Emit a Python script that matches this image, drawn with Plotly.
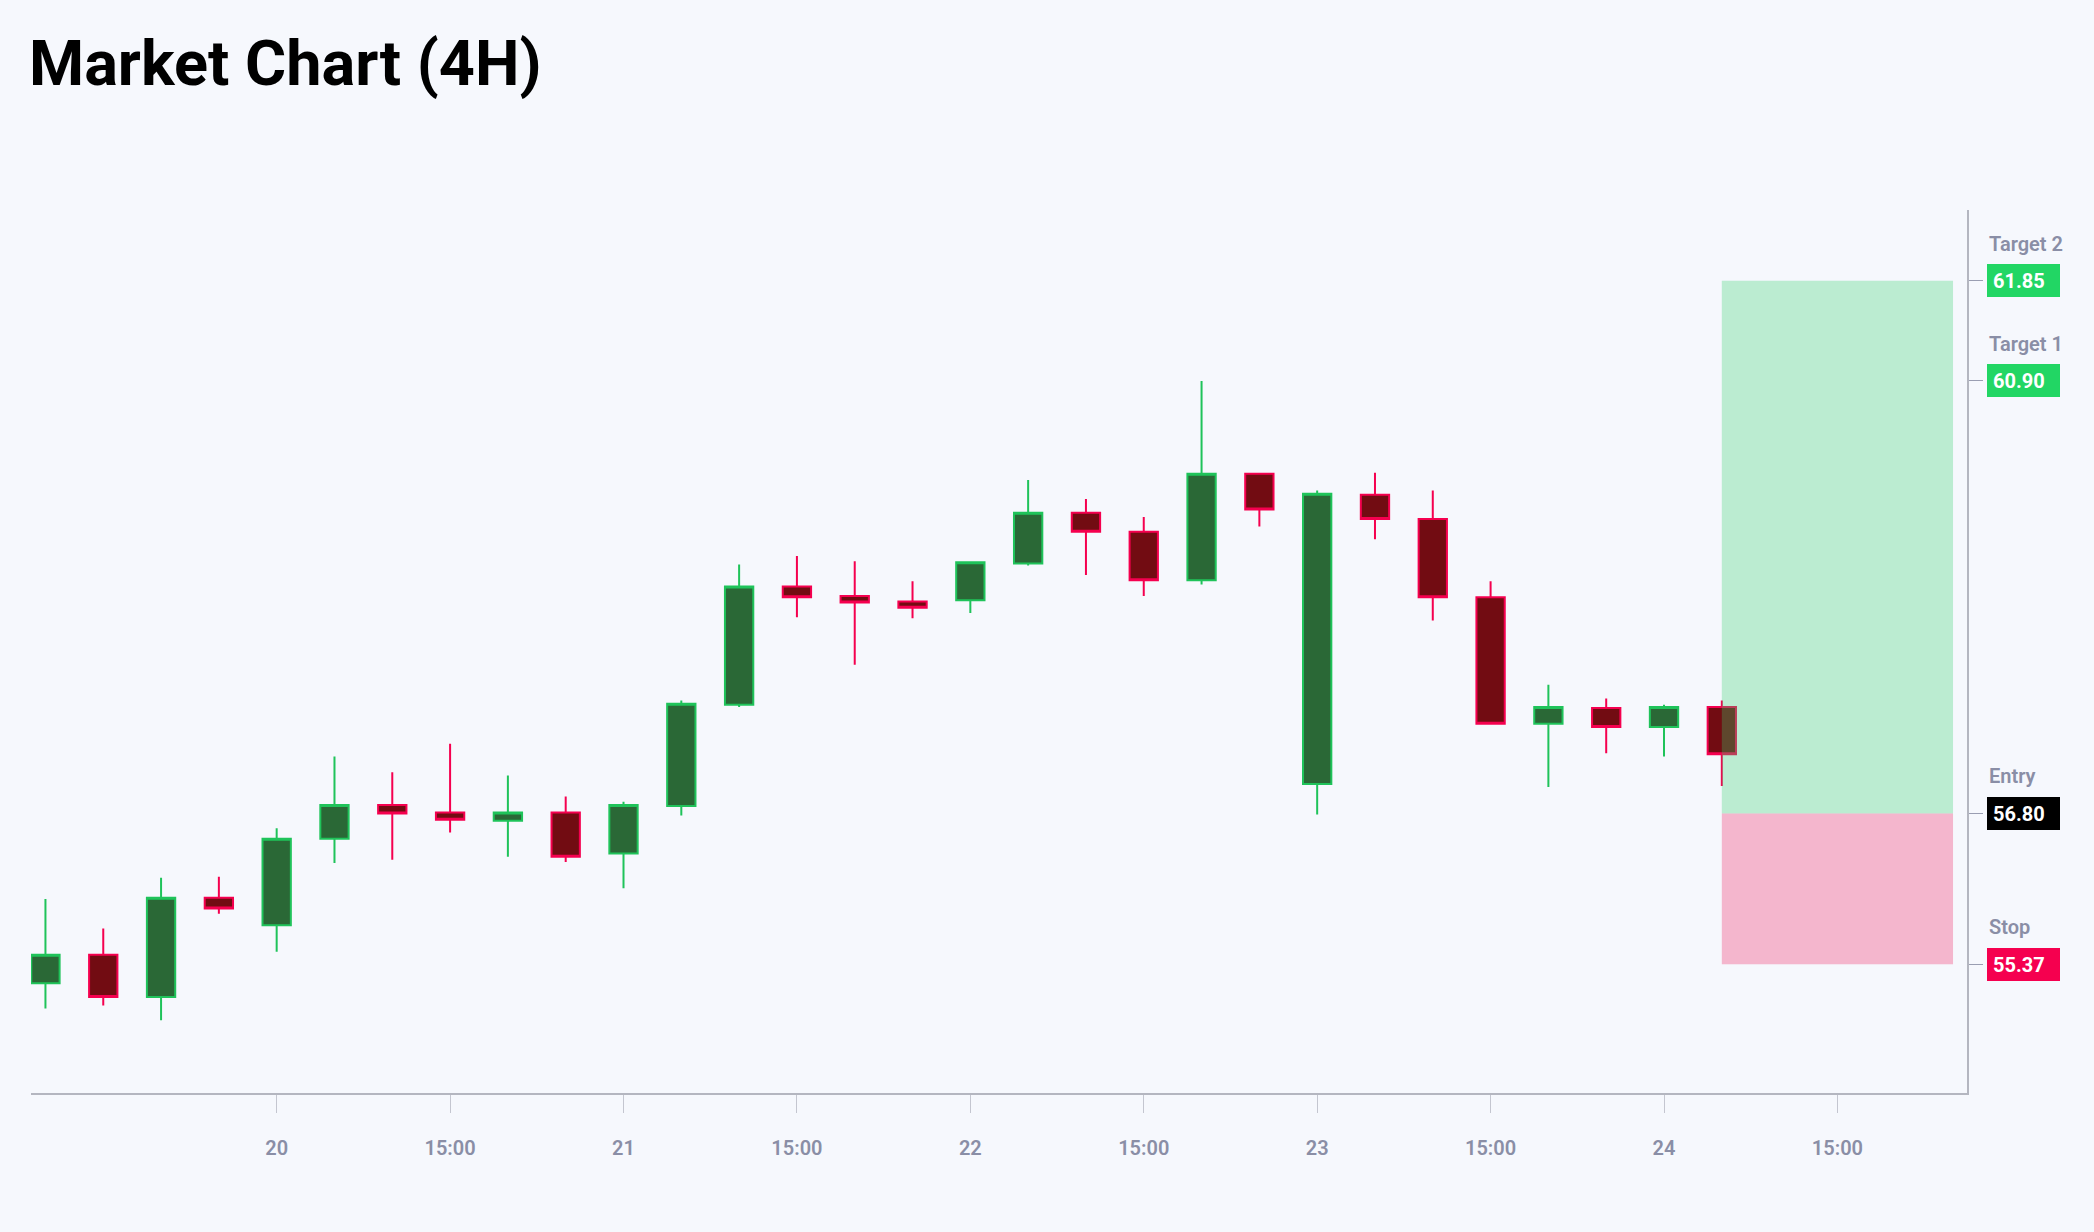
import plotly.graph_objects as go

# 4H candles
timestamps = [
    "2025-01-19 08:00", "2025-01-19 12:00", "2025-01-19 16:00", "2025-01-19 20:00",
    "2025-01-20 00:00", "2025-01-20 04:00", "2025-01-20 08:00", "2025-01-20 12:00",
    "2025-01-20 16:00", "2025-01-20 20:00", "2025-01-21 00:00", "2025-01-21 04:00",
    "2025-01-21 08:00", "2025-01-21 12:00", "2025-01-21 16:00", "2025-01-21 20:00",
    "2025-01-22 00:00", "2025-01-22 04:00", "2025-01-22 08:00", "2025-01-22 12:00",
    "2025-01-22 16:00", "2025-01-22 20:00", "2025-01-23 00:00", "2025-01-23 04:00",
    "2025-01-23 08:00", "2025-01-23 12:00", "2025-01-23 16:00", "2025-01-23 20:00",
    "2025-01-24 00:00", "2025-01-24 04:00",
]
opens = [55.19, 55.46, 55.06, 56.00, 55.74, 56.56, 56.88, 56.81, 56.73, 56.81,
         56.42, 56.87, 57.83, 58.95, 58.86, 58.81, 58.82, 59.17, 59.65, 59.47,
         59.01, 60.02, 57.08, 59.82, 59.59, 58.85, 57.65, 57.80, 57.62, 57.81]
highs = [55.99, 55.71, 56.19, 56.20, 56.66, 57.34, 57.19, 57.46, 57.16, 56.96,
         56.91, 57.87, 59.16, 59.24, 59.19, 59.00, 59.19, 59.96, 59.78, 59.61,
         60.90, 60.03, 59.86, 60.03, 59.86, 59.00, 58.02, 57.89, 57.83, 57.87]
lows = [54.95, 54.98, 54.84, 55.85, 55.49, 56.33, 56.36, 56.62, 56.39, 56.34,
        56.09, 56.78, 57.81, 58.66, 58.21, 58.65, 58.70, 59.15, 59.06, 58.86,
        58.97, 59.52, 56.79, 59.40, 58.63, 57.64, 57.05, 57.37, 57.34, 57.06]
closes = [55.46, 55.06, 56.00, 55.90, 56.56, 56.88, 56.80, 56.74, 56.81, 56.39,
          56.88, 57.84, 58.95, 58.85, 58.80, 58.75, 59.18, 59.65, 59.47, 59.01,
          60.02, 59.68, 59.83, 59.59, 58.85, 57.65, 57.81, 57.62, 57.81, 57.36]

# trade plan levels
level_names = ["Target 2", "Target 1", "Entry", "Stop"]
level_values = [61.85, 60.90, 56.80, 55.37]
level_colors = ["#22d664", "#22d664", "#000000", "#f5004f"]
entry_price = 56.80
stop_price = 55.37
target_price = 61.85
zone_start = "2025-01-24 04:00"
zone_end = "2025-01-24 20:00"

tick_vals = [
    "2025-01-20 00:00", "2025-01-20 12:00", "2025-01-21 00:00", "2025-01-21 12:00",
    "2025-01-22 00:00", "2025-01-22 12:00", "2025-01-23 00:00", "2025-01-23 12:00",
    "2025-01-24 00:00", "2025-01-24 12:00",
]
tick_text = ["20", "15:00", "21", "15:00", "22", "15:00", "23", "15:00", "24", "15:00"]
x_range = ["2025-01-19 07:00", "2025-01-24 20:58"]
y_range = [54.15, 62.52]

BG = "#f6f8fd"
MUTED = "#8a8ea6"

fig = go.Figure()
fig.add_trace(
    go.Candlestick(
        x=timestamps,
        open=opens,
        high=highs,
        low=lows,
        close=closes,
        increasing=dict(line=dict(color="#1fc35a", width=2), fillcolor="#2a6836"),
        decreasing=dict(line=dict(color="#f5004f", width=2), fillcolor="#720c12"),
        whiskerwidth=0,
        showlegend=False,
    )
)

# reward / risk zones
fig.add_shape(
    type="rect", xref="x", yref="y",
    x0=zone_start, x1=zone_end, y0=entry_price, y1=target_price,
    fillcolor="rgba(50,210,110,0.3)", line=dict(width=0), layer="above",
)
fig.add_shape(
    type="rect", xref="x", yref="y",
    x0=zone_start, x1=zone_end, y0=stop_price, y1=entry_price,
    fillcolor="rgba(242,12,82,0.28)", line=dict(width=0), layer="above",
)

for name, value, color in zip(level_names, level_values, level_colors):
    fig.add_annotation(
        x=1, xref="paper", y=value, yref="y",
        xanchor="left", yanchor="middle", xshift=20,
        text=f"<b>{value:.2f}</b>", showarrow=False, align="left",
        font=dict(family="Roboto", size=20, color="white"),
        bgcolor=color, borderpad=6, borderwidth=0, width=61, height=21,
    )
    fig.add_annotation(
        x=1, xref="paper", y=value, yref="y",
        xanchor="left", yanchor="middle", xshift=20, yshift=37,
        text=name, showarrow=False, align="left",
        font=dict(family="Roboto", size=20, color=MUTED, weight=600),
    )

fig.update_layout(
    width=2094,
    height=1232,
    title=dict(
        text="<b>Market Chart (4H)</b>",
        x=29 / 2094, xanchor="left", xref="container",
        y=1 - 63 / 1232, yanchor="middle", yref="container",
        font=dict(family="Roboto", size=63, color="#000000"),
    ),
    paper_bgcolor=BG,
    plot_bgcolor=BG,
    margin=dict(l=31, r=127, t=210, b=139),
    font=dict(family="Roboto"),
    xaxis=dict(
        type="date",
        range=x_range,
        tickvals=tick_vals,
        ticktext=tick_text,
        showgrid=False,
        zeroline=False,
        showline=True,
        linecolor="#b4b6c0",
        linewidth=2,
        ticks="outside",
        ticklen=18,
        tickcolor="#c4c6d0",
        tickwidth=1,
        ticklabelstandoff=18,
        tickfont=dict(family="Roboto", size=20, color=MUTED, weight=600),
        rangeslider=dict(visible=False),
    ),
    yaxis=dict(
        side="right",
        range=y_range,
        tickvals=level_values,
        showticklabels=False,
        showgrid=False,
        zeroline=False,
        showline=True,
        linecolor="#b4b6c0",
        linewidth=2,
        ticks="outside",
        ticklen=14,
        tickcolor="#9a9eb2",
        tickwidth=1,
    ),
)

# page margin off so the figure fills the window edge to edge
fig.write_html(
    "out.html",
    config={"displayModeBar": False},
    post_script="document.body.style.margin='0';document.body.style.background='#f6f8fd';",
)
